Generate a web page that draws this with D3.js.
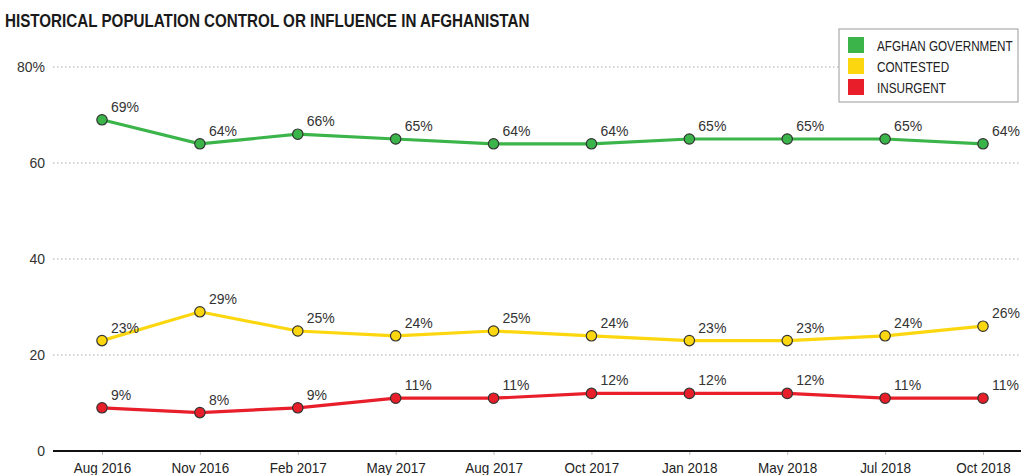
<!DOCTYPE html>
<html>
<head>
<meta charset="utf-8">
<script src="https://cdn.jsdelivr.net/npm/d3@7"></script>
<style>
  html, body { margin: 0; padding: 0; background: #fff; }
  svg { display: block; }
  .sans { font-family: "Liberation Sans", Arial, sans-serif; }
</style>
</head>
<body>
<svg id="chart" width="1021" height="475"></svg>
<script>
// Survey periods
const periods = ["Aug 2016", "Nov 2016", "Feb 2017", "May 2017", "Aug 2017",
                 "Oct 2017", "Jan 2018", "May 2018", "Jul 2018", "Oct 2018"];

// Share of the population (%)
const government = [69, 64, 66, 65, 64, 64, 65, 65, 65, 64];
const contested  = [23, 29, 25, 24, 25, 24, 23, 23, 24, 26];
const insurgent  = [9, 8, 9, 11, 11, 12, 12, 12, 11, 11];

const yTicks = [0, 20, 40, 60, 80];
const yTickLabels = ["0", "20", "40", "60", "80%"];

const seriesNames = ["AFGHAN GOVERNMENT", "CONTESTED", "INSURGENT"];
const seriesColors = ["#3bb54a", "#fcd70f", "#e81f2a"];

const series = [government, contested, insurgent].map((values, i) => ({
  name: seriesNames[i], color: seriesColors[i], values
}));

const svg = d3.select("#chart");
const plotLeft = 53, plotRight = 1021;

const x = d3.scalePoint().domain(periods).range([102, 983]);
const y = d3.scaleLinear().domain([0, 80]).range([451, 67]);

// Squeeze a text horizontally (about its own x) to mimic a condensed face
function condense(sel, factor) {
  sel.each(function () {
    const t = d3.select(this);
    const x0 = +(t.attr("x") || 0);
    t.attr("x", x0 / factor).attr("transform", `scale(${factor},1)`);
  });
}

// Title
svg.append("text")
  .attr("class", "sans")
  .attr("x", 5).attr("y", 27)
  .attr("font-size", 19).attr("font-weight", "bold")
  .attr("fill", "#1a1a1a")
  .text("HISTORICAL POPULATION CONTROL OR INFLUENCE IN AFGHANISTAN")
  .call(condense, 0.8);

// Dotted gridlines
svg.append("g")
  .selectAll("line")
  .data(yTicks.filter(d => d > 0))
  .join("line")
  .attr("x1", plotLeft).attr("x2", plotRight)
  .attr("y1", d => y(d)).attr("y2", d => y(d))
  .attr("stroke", "#aaa").attr("stroke-width", 1)
  .attr("stroke-dasharray", "1.5,2.5");

// Y axis labels
svg.append("g")
  .selectAll("text")
  .data(yTicks)
  .join("text")
  .attr("class", "sans")
  .attr("x", 45).attr("y", d => y(d) + 5)
  .attr("text-anchor", "end")
  .attr("font-size", 14)
  .attr("fill", "#333")
  .text((d, i) => yTickLabels[i]);

// X axis
const xAxis = svg.append("g")
  .attr("transform", `translate(0,${y(0)})`)
  .call(d3.axisBottom(x).tickSize(4).tickPadding(7));
xAxis.select(".domain").remove();
xAxis.selectAll(".tick line").attr("stroke", "#bbb");
xAxis.selectAll(".tick text")
  .attr("class", "sans")
  .attr("font-size", 15)
  .attr("fill", "#222")
  .call(condense, 0.9);
svg.append("line")
  .attr("x1", plotLeft).attr("x2", plotRight)
  .attr("y1", y(0)).attr("y2", y(0))
  .attr("stroke", "#111").attr("stroke-width", 2);

// Lines, points and value labels
const line = d3.line().x((d, i) => x(periods[i])).y(d => y(d));

const groups = svg.append("g")
  .selectAll("g")
  .data(series)
  .join("g");

groups.append("path")
  .attr("d", d => line(d.values))
  .attr("fill", "none")
  .attr("stroke", d => d.color)
  .attr("stroke-width", 3.2);

groups.selectAll("circle")
  .data(d => d.values.map((v, i) => ({ v, i, color: d.color })))
  .join("circle")
  .attr("cx", d => x(periods[d.i]))
  .attr("cy", d => y(d.v))
  .attr("r", 5.2)
  .attr("fill", d => d.color)
  .attr("stroke", "#333").attr("stroke-width", 1.2);

groups.selectAll("text")
  .data(d => d.values.map((v, i) => ({ v, i })))
  .join("text")
  .attr("class", "sans")
  .attr("x", d => x(periods[d.i]) + 9)
  .attr("y", d => y(d.v) - 8)
  .attr("font-size", 14)
  .attr("fill", "#333")
  .text(d => d.v + "%");

// Legend
const legend = svg.append("g").attr("transform", "translate(839,29)");
legend.append("rect")
  .attr("width", 179).attr("height", 73)
  .attr("fill", "#fff").attr("stroke", "#999").attr("stroke-width", 1);
const items = legend.selectAll("g.item")
  .data(series)
  .join("g")
  .attr("class", "item")
  .attr("transform", (d, i) => `translate(9,${8 + i * 21})`);
items.append("rect")
  .attr("width", 16).attr("height", 16)
  .attr("fill", d => d.color);
items.append("text")
  .attr("class", "sans")
  .attr("x", 29).attr("y", 14)
  .attr("font-size", 15)
  .attr("fill", "#222")
  .text(d => d.name)
  .call(condense, 0.78);
</script>
</body>
</html>
